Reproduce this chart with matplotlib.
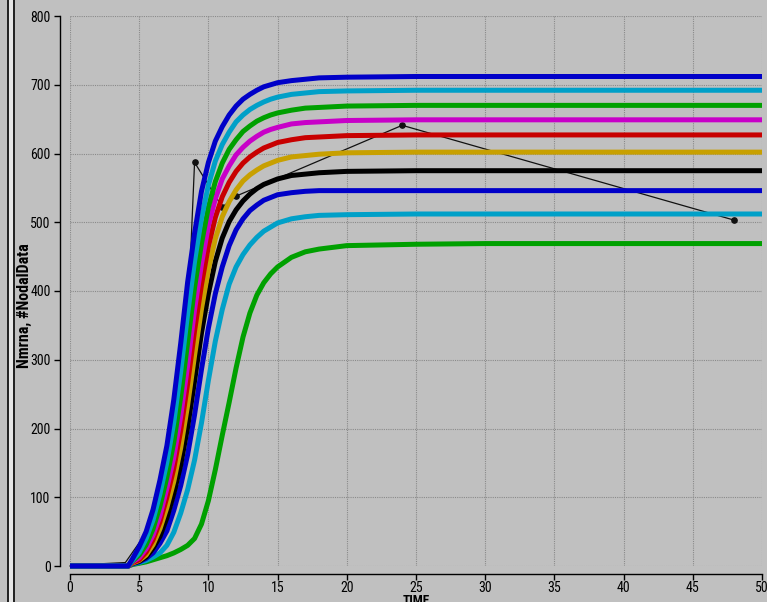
import matplotlib
matplotlib.use("Agg")
import matplotlib.pyplot as plt
from matplotlib.lines import Line2D
from matplotlib.patches import Rectangle

# ---------------- data ----------------
time = [0, 4.2, 4.5, 5, 5.5, 6, 6.5, 7, 7.5, 8, 8.5, 9, 9.5, 10, 10.5, 11, 11.5,
        12, 12.5, 13, 13.5, 14, 14.5, 15, 16, 17, 18, 20, 25, 30, 40, 50]

blue_a = [0, 0, 10, 28, 50, 82, 125, 175, 242, 324, 413, 484, 545, 587, 618, 639, 656,
          669, 679, 686, 692, 697, 700, 703, 706, 708, 710, 711, 712, 712, 712, 712]
cyan_a = [0, 0, 8, 20, 40, 67, 105, 151, 209, 283, 367, 443, 506, 554, 589, 613, 631,
          646, 656, 664, 670, 675, 679, 682, 686, 688, 690, 691, 692, 692, 692, 692]
green_a = [0, 0, 7, 16, 31, 54, 87, 129, 180, 246, 325, 405, 469, 522, 559, 586, 606,
           620, 632, 640, 647, 652, 656, 659, 663, 666, 667, 669, 670, 670, 670, 670]
magenta = [0, 0, 6, 12, 25, 45, 73, 113, 158, 218, 292, 373, 439, 495, 534, 563, 582,
           598, 609, 618, 625, 631, 635, 638, 643, 645, 646, 648, 649, 649, 649, 649]
red = [0, 0, 5, 9, 20, 38, 64, 100, 142, 197, 265, 342, 409, 465, 507, 537, 558,
       574, 586, 595, 602, 608, 612, 616, 620, 623, 624, 626, 627, 627, 627, 627]
gold = [0, 0, 4, 8, 16, 31, 54, 85, 123, 172, 234, 306, 374, 431, 476, 508, 530,
        547, 560, 569, 576, 582, 586, 590, 595, 597, 599, 601, 602, 602, 602, 602]
black = [0, 0, 4, 7, 13, 26, 43, 70, 105, 147, 202, 269, 339, 396, 443, 477, 501,
         518, 531, 541, 549, 555, 559, 563, 568, 570, 572, 574, 575, 575, 575, 575]
blue_b = [0, 0, 3, 6, 11, 19, 33, 51, 81, 117, 162, 220, 286, 346, 396, 435, 466,
          489, 505, 517, 525, 532, 536, 540, 543, 545, 546, 546, 546, 546, 546, 546]
cyan_b = [0, 0, 3, 5, 8, 13, 19, 30, 49, 77, 111, 154, 208, 270, 327, 373, 410,
          435, 453, 467, 478, 487, 493, 499, 505, 508, 510, 511, 512, 512, 512, 512]
green_b = [0, 0, 2, 4, 6, 9, 12, 15, 19, 24, 30, 40, 61, 95, 140, 190, 238,
           288, 333, 368, 394, 412, 425, 435, 449, 457, 461, 466, 468, 469, 469, 469]

series = [blue_a, cyan_a, green_a, magenta, red, gold, black, blue_b, cyan_b, green_b]
colors = ['#0000C8', '#00A0C8', '#00A000', '#C800C8', '#C80000', '#C8A000',
          '#000000', '#0000C8', '#00A0C8', '#00A000']

nodal_t = [0, 2, 4, 8, 9, 11, 12, 24, 48]
nodal_v = [0, 3, 5, 120, 587, 522, 538, 641, 503]

x_ticks = [0, 5, 10, 15, 20, 25, 30, 35, 40, 45, 50]
y_ticks = [0, 100, 200, 300, 400, 500, 600, 700, 800]

# ---------------- figure ----------------
plt.rcParams['font.family'] = ['Roboto Condensed', 'Archivo Narrow', 'DejaVu Sans']

W, H = 767, 602
BG = '#C0C0C0'
fig = plt.figure(figsize=(W / 100, H / 100), dpi=100, facecolor=BG)
ax = fig.add_axes([70 / W, (H - 566) / H, (762 - 70) / W, (566 - 16) / H])
ax.set_facecolor(BG)

ax.set_xlim(0, 50)
ax.set_ylim(0, 800)
ax.set_xticks(x_ticks)
ax.set_yticks(y_ticks)
ax.set_xticklabels([str(v) for v in x_ticks])
ax.set_yticklabels([str(v) for v in y_ticks])

ax.grid(True, color='#8A8A8A', linestyle=(0, (1, 1)), linewidth=0.8, zorder=0)
ax.set_axisbelow(True)

for s in ['top', 'right']:
    ax.spines[s].set_visible(False)
ax.spines['left'].set_position(('outward', 7))
ax.spines['bottom'].set_position(('outward', 6))
for s in ['left', 'bottom']:
    ax.spines[s].set_color('black')
    ax.spines[s].set_linewidth(1.0)
ax.tick_params(axis='y', direction='out', length=4, width=1, colors='black',
               pad=3, labelsize=10)
ax.tick_params(axis='x', direction='out', length=4, width=1, colors='black',
               pad=1, labelsize=10)

# nodal data (behind curves)
ax.plot(nodal_t, nodal_v, color='#111111', linewidth=0.9, marker='o',
        markersize=3.8, markevery=[4, 5, 6, 7, 8], zorder=2, clip_on=False)

# simulated curves (first ones on top)
for i in range(len(series) - 1, -1, -1):
    ax.plot(time, series[i], color=colors[i], linewidth=3.6, zorder=3 + (10 - i),
            solid_capstyle='butt', solid_joinstyle='round', clip_on=False)

# labels
fig.text(24 / W, 1 - 306 / H, 'Nmrna, #NodalData', rotation=90, ha='center',
         va='center', fontsize=11.5, fontweight='bold')
fig.text(416 / W, 1 - 594 / H, 'TIME', ha='center', va='top', fontsize=9.5,
         fontweight='bold')

# left window frame
fig.add_artist(Rectangle((8 / W, 0), 5 / W, 1, transform=fig.transFigure,
                         facecolor='#E6E6E6', edgecolor='none'))
fig.add_artist(Line2D([7.5 / W, 7.5 / W], [0, 1], transform=fig.transFigure,
                      color='#202020', linewidth=1.4))
fig.add_artist(Line2D([13.5 / W, 13.5 / W], [0, 1], transform=fig.transFigure,
                      color='#202020', linewidth=1.4))

fig.savefig('out.png', dpi=100, facecolor=BG)
